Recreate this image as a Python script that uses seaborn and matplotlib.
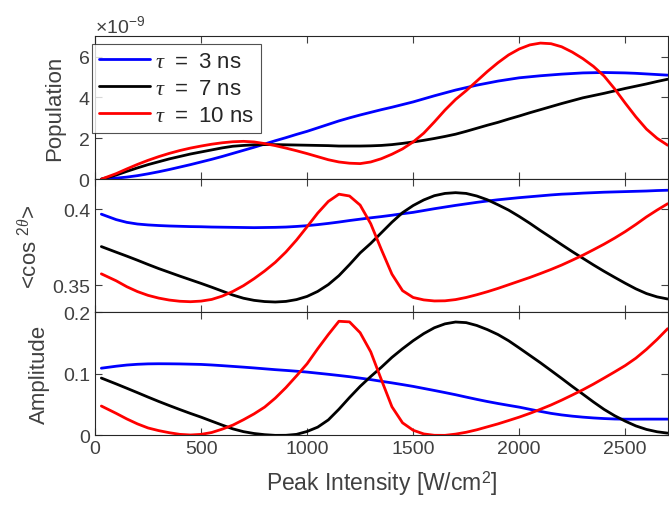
import numpy as np
import pandas as pd
import matplotlib
matplotlib.use("Agg")
import matplotlib.pyplot as plt
import matplotlib.ticker as mticker
import seaborn as sns

# Peak intensity [W/cm^2]
intensity = [30, 100, 150, 200, 250, 300, 350, 400, 450, 500,
             550, 600, 650, 700, 750, 800, 850, 900, 950, 1000,
             1050, 1100, 1150, 1200, 1250, 1300, 1350, 1400, 1450, 1500,
             1550, 1600, 1650, 1700, 1750, 1800, 1850, 1900, 1950, 2000,
             2050, 2100, 2150, 2200, 2250, 2300, 2350, 2400, 2450, 2500,
             2550, 2600, 2650, 2700]

labels = ['$\\tau$\u2002=\u20023 ns', '$\\tau$\u2002=\u20027 ns', '$\\tau$\u2002=\u200210 ns']
colors = ['#0000ff', '#000000', '#ff0000']

# Population (x 1e-9)
pop_3 = [0.0, 0.05, 0.1, 0.17, 0.26, 0.36, 0.47, 0.59, 0.71, 0.84,
         0.97, 1.11, 1.26, 1.41, 1.56, 1.72, 1.88, 2.03, 2.19, 2.34,
         2.51, 2.68, 2.85, 3.0, 3.14, 3.27, 3.4, 3.52, 3.65, 3.78,
         3.93, 4.08, 4.22, 4.36, 4.48, 4.6, 4.7, 4.8, 4.88, 4.96,
         5.01, 5.06, 5.1, 5.14, 5.17, 5.2, 5.21, 5.22, 5.21, 5.2,
         5.18, 5.15, 5.12, 5.09]
pop_7 = [0.0, 0.2, 0.38, 0.55, 0.71, 0.85, 0.99, 1.11, 1.23, 1.33,
         1.43, 1.53, 1.61, 1.65, 1.68, 1.69, 1.69, 1.68, 1.67, 1.66,
         1.65, 1.64, 1.62, 1.62, 1.62, 1.63, 1.65, 1.69, 1.75, 1.82,
         1.9, 1.99, 2.09, 2.2, 2.34, 2.49, 2.64, 2.78, 2.94, 3.09,
         3.25, 3.4, 3.55, 3.7, 3.84, 3.98, 4.09, 4.2, 4.32, 4.44,
         4.55, 4.66, 4.78, 4.89]
pop_10 = [0.0, 0.27, 0.5, 0.72, 0.92, 1.1, 1.26, 1.4, 1.52, 1.62,
          1.71, 1.78, 1.83, 1.85, 1.82, 1.74, 1.64, 1.52, 1.39, 1.25,
          1.1, 0.95, 0.84, 0.78, 0.76, 0.84, 1.0, 1.22, 1.48, 1.82,
          2.25, 2.8, 3.38, 3.9, 4.33, 4.8, 5.27, 5.7, 6.08, 6.37,
          6.57, 6.66, 6.63, 6.48, 6.22, 5.9, 5.52, 5.05, 4.42, 3.72,
          3.05, 2.45, 2.0, 1.66]

# <cos^2 theta>
cos_3 = [0.3968, 0.3932, 0.3914, 0.3903, 0.3897, 0.3893, 0.389, 0.3888, 0.3886, 0.3885,
         0.3883, 0.3882, 0.3881, 0.388, 0.3879, 0.388, 0.3881, 0.3883, 0.3887, 0.3892,
         0.3899, 0.3907, 0.3916, 0.3926, 0.3935, 0.3944, 0.3952, 0.3961, 0.3971, 0.398,
         0.3992, 0.4004, 0.4015, 0.4026, 0.4036, 0.4046, 0.4055, 0.4063, 0.407, 0.4077,
         0.4083, 0.4089, 0.4095, 0.41, 0.4103, 0.4107, 0.411, 0.4113, 0.4115, 0.4117,
         0.4119, 0.4121, 0.4124, 0.4126]
cos_7 = [0.3754, 0.3717, 0.3691, 0.3664, 0.3636, 0.3609, 0.3584, 0.3559, 0.3535, 0.3511,
         0.3486, 0.346, 0.3434, 0.3413, 0.3399, 0.3391, 0.3388, 0.3392, 0.3404, 0.3425,
         0.3458, 0.3503, 0.3562, 0.3635, 0.3712, 0.3775, 0.3845, 0.3915, 0.3978, 0.4025,
         0.4062, 0.409, 0.4105, 0.411, 0.4105, 0.4088, 0.4063, 0.403, 0.3995, 0.3953,
         0.3908, 0.386, 0.3814, 0.3767, 0.3721, 0.3677, 0.3633, 0.3591, 0.3551, 0.3512,
         0.3475, 0.3444, 0.3422, 0.3408]
cos_10 = [0.3574, 0.3528, 0.3489, 0.3457, 0.3432, 0.3414, 0.3401, 0.3393, 0.339, 0.3394,
          0.3405, 0.3427, 0.3458, 0.3496, 0.3542, 0.3593, 0.365, 0.3718, 0.3797, 0.3885,
          0.3975, 0.4052, 0.41, 0.4088, 0.4028, 0.3905, 0.3735, 0.3572, 0.3463, 0.3418,
          0.3402, 0.3395, 0.3396, 0.3404, 0.3418, 0.3436, 0.3456, 0.3478, 0.3502, 0.3526,
          0.355, 0.3576, 0.3603, 0.3632, 0.3664, 0.3697, 0.3733, 0.377, 0.381, 0.3853,
          0.39, 0.395, 0.3995, 0.4037]

# Amplitude
amp_3 = [0.109, 0.1122, 0.1141, 0.1153, 0.116, 0.1162, 0.1161, 0.1159, 0.1155, 0.1151,
         0.1142, 0.1131, 0.1119, 0.1107, 0.1094, 0.108, 0.1066, 0.1054, 0.1041, 0.1027,
         0.1009, 0.0991, 0.0972, 0.0952, 0.0929, 0.0905, 0.0878, 0.0852, 0.0824, 0.0795,
         0.0762, 0.0729, 0.0695, 0.066, 0.0622, 0.0585, 0.055, 0.0518, 0.0488, 0.0459,
         0.0424, 0.039, 0.0358, 0.0333, 0.0313, 0.0297, 0.0284, 0.0274, 0.0267, 0.0264,
         0.0264, 0.0265, 0.0265, 0.0265]
amp_7 = [0.093, 0.0835, 0.0765, 0.0694, 0.0622, 0.0552, 0.0485, 0.042, 0.0357, 0.0297,
         0.0232, 0.0168, 0.0107, 0.0062, 0.0032, 0.0013, 0.0002, 0.0003, 0.0018, 0.0065,
         0.0135, 0.0252, 0.0425, 0.0615, 0.0795, 0.0955, 0.1105, 0.1265, 0.1405, 0.1535,
         0.165, 0.1745, 0.1808, 0.1838, 0.1828, 0.1782, 0.1715, 0.1635, 0.1535, 0.1418,
         0.1298, 0.1178, 0.1052, 0.0925, 0.0795, 0.067, 0.0543, 0.0423, 0.032, 0.0232,
         0.0155, 0.0098, 0.006, 0.0038]
amp_10 = [0.0477, 0.0358, 0.0268, 0.0188, 0.0122, 0.0079, 0.0045, 0.0018, 0.0008, 0.0018,
          0.0048, 0.0103, 0.0168, 0.0255, 0.035, 0.046, 0.0605, 0.0775, 0.0965, 0.1162,
          0.1405, 0.1635, 0.185, 0.184, 0.1665, 0.1355, 0.0905, 0.0465, 0.0205, 0.0085,
          0.0025, 0.0003, 0.0002, 0.0022, 0.0052, 0.0092, 0.014, 0.0188, 0.0242, 0.0297,
          0.0358, 0.0424, 0.0494, 0.0572, 0.0655, 0.074, 0.0832, 0.093, 0.103, 0.1133,
          0.1252, 0.1395, 0.1555, 0.173]


def long_frame(series):
    parts = []
    for lab, vals in zip(labels, series):
        parts.append(pd.DataFrame({'x': intensity, 'y': vals, 'tau': lab}))
    return pd.concat(parts, ignore_index=True)


sns.set_style("ticks")
plt.rcParams['font.family'] = ['Liberation Sans', 'DejaVu Sans']
plt.rcParams['mathtext.fontset'] = 'custom'
plt.rcParams['mathtext.it'] = 'Liberation Serif:italic'
plt.rcParams['mathtext.rm'] = 'Liberation Sans'

grey = '#404040'
fig = plt.figure(figsize=(6.69, 5.06), dpi=100)
left, width = 0.142, 0.856
ax1 = fig.add_axes([left, 0.644, width, 0.2826])
ax2 = fig.add_axes([left, 0.3814, width, 0.2628])
ax3 = fig.add_axes([left, 0.1374, width, 0.2440])

pal = dict(zip(labels, colors))
pop_df = long_frame([pop_3, pop_7, pop_10])
pop_df['y'] = pop_df['y'] * 1e-9
sns.lineplot(data=pop_df, x='x', y='y', hue='tau', palette=pal, linewidth=2, ax=ax1)
sns.lineplot(data=long_frame([cos_3, cos_7, cos_10]), x='x', y='y', hue='tau',
             palette=pal, linewidth=2, ax=ax2, legend=False)
sns.lineplot(data=long_frame([amp_3, amp_7, amp_10]), x='x', y='y', hue='tau',
             palette=pal, linewidth=2, ax=ax3, legend=False)

for ax in (ax1, ax2, ax3):
    ax.set_xlim(0, 2700)
    ax.set_xticks([0, 500, 1000, 1500, 2000, 2500])
    ax.tick_params(direction='in', top=True, right=True, length=5, width=0.8,
                   labelsize=14, colors=grey, labelcolor=grey)
    for s in ax.spines.values():
        s.set_color('#262626')
        s.set_linewidth(0.8)
    ax.set_xlabel('')

ax1.set_ylim(0, 7e-9)
ax1.set_yticks([0, 2e-9, 4e-9, 6e-9])
fmt = mticker.ScalarFormatter(useMathText=True)
fmt.set_powerlimits((-3, 3))
ax1.yaxis.set_major_formatter(fmt)
ax1.yaxis.get_offset_text().set_fontsize(14)
ax1.yaxis.get_offset_text().set_color(grey)
ax1.set_xticklabels([])
ax1.set_ylabel('Population', fontsize=16, color=grey)

ax2.set_ylim(0.3322, 0.42)
ax2.set_yticks([0.35, 0.4])
ax2.set_yticklabels(['0.35', '0.4'])
ax2.set_xticklabels([])
ax2.set_ylabel(r'<cos $^{2\theta}$>', fontsize=16, color=grey)

ax3.set_ylim(0, 0.2)
ax3.set_yticks([0, 0.1, 0.2])
ax3.set_yticklabels(['0', '0.1', '0.2'])
ax3.set_ylabel('Amplitude', fontsize=16, color=grey)
ax3.set_xlabel(r'Peak Intensity [W/cm$^2$]', fontsize=16.5, color=grey, labelpad=8)

ax1.yaxis.set_label_coords(-0.052, 0.5)
ax2.yaxis.set_label_coords(-0.093, 0.5)
ax3.yaxis.set_label_coords(-0.078, 0.5)

leg = ax1.legend(loc='upper left', bbox_to_anchor=(-0.005, 0.945), borderaxespad=0,
                 fontsize=16, frameon=True, fancybox=False, handlelength=2.3,
                 handletextpad=0.25, labelspacing=0.28, borderpad=0.3, title=None)
leg.get_frame().set_edgecolor('#262626')
leg.get_frame().set_linewidth(0.8)
for t in leg.get_texts():
    t.set_color('#262626')

fig.savefig('out.png', dpi=100)
